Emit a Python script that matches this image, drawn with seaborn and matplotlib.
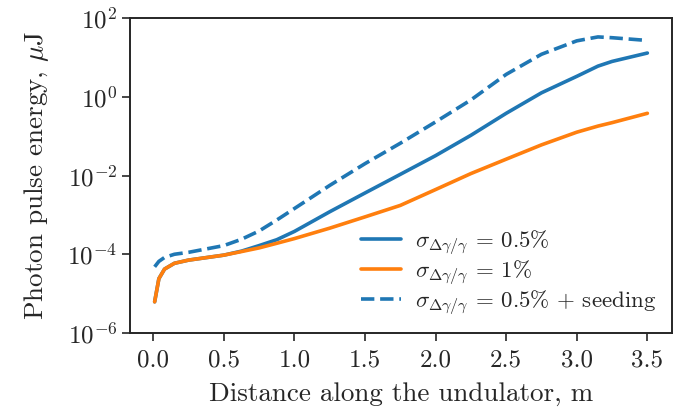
import numpy as np
import pandas as pd
import seaborn as sns
import matplotlib
matplotlib.use("Agg")
import matplotlib.pyplot as plt

# distancia a lo largo del ondulador (m)
z = [0.01, 0.04, 0.08, 0.15, 0.25, 0.5, 0.625, 0.75, 0.875, 1.0, 1.25, 1.5, 1.75,
     2.0, 2.25, 2.5, 2.75, 3.0, 3.15, 3.25, 3.5]

# energia del pulso (uJ)
e_05 = [6.2e-6, 2.4e-5, 4.2e-5, 5.9e-5, 7.1e-5, 9.5e-5, 1.2e-4, 1.66e-4, 2.34e-4, 3.8e-4,
        1.2e-3, 3.6e-3, 1.07e-2, 3.2e-2, 0.105, 0.38, 1.26, 3.3, 6.0, 7.9, 12.9]
e_1 = [6.2e-6, 2.4e-5, 4.2e-5, 5.9e-5, 7.1e-5, 9.5e-5, 1.17e-4, 1.45e-4, 1.9e-4, 2.5e-4,
       4.6e-4, 8.9e-4, 1.74e-3, 4.4e-3, 1.12e-2, 2.6e-2, 6.0e-2, 0.126, 0.18, 0.22, 0.38]
e_seed = [4.8e-5, 6.6e-5, 8.3e-5, 1.0e-4, 1.12e-4, 1.66e-4, 2.4e-4, 3.9e-4, 7.4e-4, 1.45e-3,
          5.6e-3, 2.0e-2, 6.6e-2, 0.23, 0.83, 3.7, 12.0, 26.3, 33.1, 31.6, 26.9]

labels = [r"$\sigma_{\Delta\gamma/\gamma}$ = 0.5%",
          r"$\sigma_{\Delta\gamma/\gamma}$ = 1%",
          r"$\sigma_{\Delta\gamma/\gamma}$ = 0.5% + seeding"]

df = pd.DataFrame({"z": z, "e05": e_05, "e1": e_1, "eseed": e_seed})

sns.set_style("ticks")
plt.rcParams["font.family"] = ["cmr10", "DejaVu Serif"]
plt.rcParams["mathtext.fontset"] = "cm"
plt.rcParams["axes.formatter.use_mathtext"] = True
plt.rcParams["axes.unicode_minus"] = False
plt.rcParams["font.size"] = 18

fig = plt.figure(figsize=(6.93, 4.16), dpi=100)
ax = fig.add_axes([0.1876, 0.1995, 0.7821, 0.7572])

sns.lineplot(x="z", y="e05", data=df, ax=ax, color="#1f77b4", lw=2.6, label=labels[0])
sns.lineplot(x="z", y="e1", data=df, ax=ax, color="#ff7f0e", lw=2.6, label=labels[1])
sns.lineplot(x="z", y="eseed", data=df, ax=ax, color="#1f77b4", lw=2.6, ls="--", label=labels[2])

ax.set_yscale("log")
ax.set_ylim(1e-6, 1e2)
ax.set_yticks([1e-6, 1e-4, 1e-2, 1e0, 1e2])
ax.minorticks_off()
ax.set_xticks([0.0, 0.5, 1.0, 1.5, 2.0, 2.5, 3.0, 3.5])
ax.set_xticklabels(["0.0", "0.5", "1.0", "1.5", "2.0", "2.5", "3.0", "3.5"])
ax.tick_params(labelsize=18, width=1.2, length=5.5)
ax.tick_params(axis="x", pad=6)
for s in ax.spines.values():
    s.set_linewidth(1.4)

ax.set_xlabel("Distance along the undulator, m", fontsize=19.5, labelpad=8)
ax.set_ylabel(r"Photon pulse energy, $\mu$J", fontsize=19.5, labelpad=12)
ax.legend(loc="lower right", frameon=False, fontsize=16.5, handlelength=1.75,
          handletextpad=0.6, labelspacing=0.05, borderaxespad=0.3)

fig.savefig("out.png", dpi=100)
